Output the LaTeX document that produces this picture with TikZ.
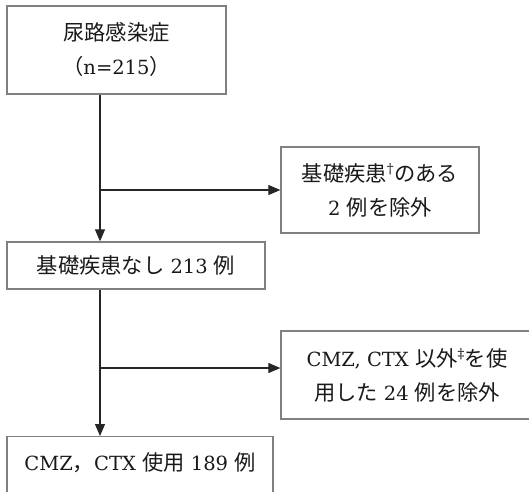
\documentclass[tikz,border=0pt]{standalone}
\usepackage{fontspec}
\setmainfont{DejaVu Serif}
\newfontfamily\cjk[Scale=1.09]{Noto Sans CJK JP}
\usetikzlibrary{arrows.meta,calc}
\begin{document}
\begin{tikzpicture}[x=1pt,y=-1pt,
  box/.style={draw=black!50, line width=1.3pt, rectangle, inner sep=0pt, align=center,
    font=\fontsize{19.5}{34}\selectfont, text=black!90},
  txt/.style={inner sep=0pt, font=\fontsize{19.5}{34}\selectfont, text=black!90},
  conn/.style={draw=black!85, line width=1.1pt},
  arr/.style={conn, -{Triangle[width=10pt,length=12pt]}}]
\useasboundingbox (0,0) rectangle (529,491);
\fill[white] (0,0) rectangle (529,491);
\node[box, minimum width=219pt, minimum height=88pt] (a) at (116.5,50)
  {{\cjk 尿路感染症}\\{\cjk （}n=215{\cjk ）}};
\node[box, minimum width=198pt, minimum height=86pt] (b) at (380,190)
  {{\cjk 基礎疾患}\textsuperscript{†}{\cjk のある}\\2 {\cjk 例を除外}};
\node[box, minimum width=258pt, minimum height=47pt] (c) at (136,265.5)
  {{\cjk 基礎疾患なし} 213 {\cjk 例}};
\node[box, minimum width=252pt, minimum height=88pt] (d) at (407,375)
  {CMZ, CTX {\cjk 以外}\textsuperscript{‡}{\cjk を使}\\{\cjk 用した} 24 {\cjk 例を除外}};
\node[box, anchor=north, minimum width=266pt, minimum height=70pt] (e) at (140,436) {};
\node[txt] (et) at (140,463) {CMZ{\cjk ，}CTX {\cjk 使用} 189 {\cjk 例}};
\coordinate (tx) at (100,0);
\coordinate (d2) at ($(d.west)+(0,-7)$);
\draw[arr] (a.south -| tx) -- (c.north -| tx);
\draw[arr] (tx |- b.west) -- (b.west);
\draw[arr] (c.south -| tx) -- (e.north -| tx);
\draw[arr] (tx |- d2) -- (d2);
\end{tikzpicture}
\end{document}
